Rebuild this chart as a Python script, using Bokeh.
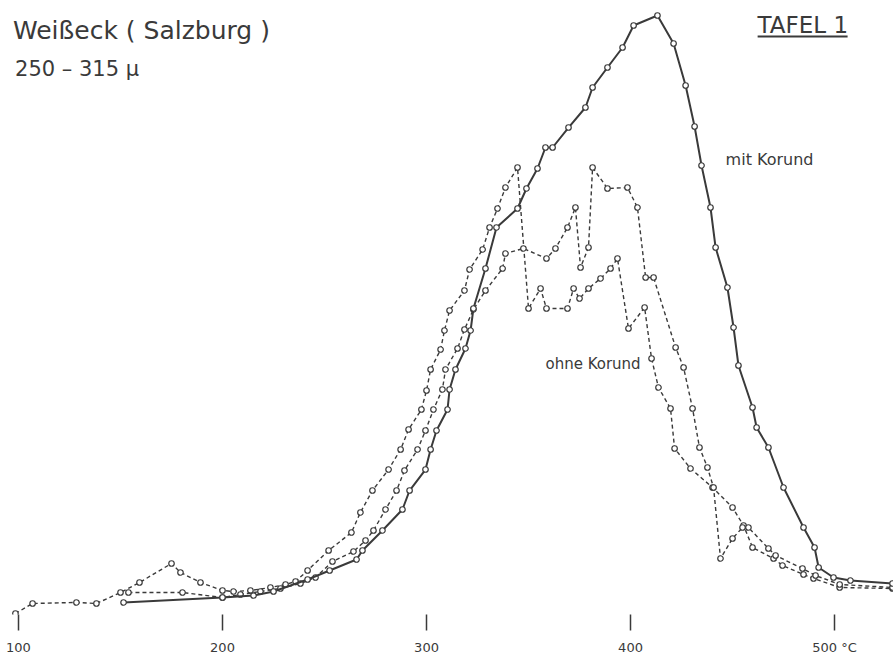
from bokeh.plotting import figure
from bokeh.models import Range1d, Label, FixedTicker
from bokeh.embed import file_html
from bokeh.resources import INLINE

# Temperature (°C) and relative intensity (arbitrary units, peak = 100)
mit_T = [151.5, 200.0, 215.2, 225.0, 241.7, 252.5, 265.7, 268.6, 278.4, 288.2, 291.7,
         299.5, 302.0, 304.9, 310.3, 311.3, 314.2, 319.1, 321.6, 323.0, 328.9, 334.3,
         344.6, 349.0, 354.4, 358.3, 361.8, 369.6, 377.9, 381.4, 388.7, 396.1, 401.5,
         413.2, 421.1, 427.0, 431.4, 434.8, 439.2, 441.7, 447.5, 450.5, 452.9, 459.8,
         461.8, 467.6, 475.0, 484.8, 490.2, 492.2, 499.5, 507.8, 528.4]
mit_v = [2.17, 3.0, 3.33, 4.0, 6.0, 7.5, 9.33, 10.83, 14.17, 17.67, 20.83,
         24.33, 27.67, 30.83, 34.33, 37.67, 41.0, 44.5, 47.5, 51.17, 57.83, 64.67,
         67.83, 71.17, 74.5, 78.0, 78.0, 81.33, 84.67, 88.0, 91.33, 94.67, 98.33,
         100.0, 95.33, 88.33, 81.5, 75.0, 68.0, 61.33, 54.67, 48.0, 41.67, 34.67,
         31.33, 28.0, 21.33, 14.67, 11.33, 8.0, 6.33, 5.83, 5.33]

ohne1_T = [98.5, 106.9, 128.4, 138.2, 150.0, 159.3, 175.0, 179.4, 189.2, 200.0, 205.4,
           213.7, 223.5, 230.9, 235.8, 241.7, 252.0, 263.2, 267.6, 273.5, 281.4, 287.3,
           291.2, 297.5, 300.0, 302.0, 306.9, 308.8, 311.3, 318.6, 321.1, 327.5, 330.9,
           334.8, 338.7, 344.6, 350.0, 355.9, 358.8, 369.1, 372.1, 375.0, 379.4, 385.3,
           390.2, 393.6, 399.0, 406.9, 410.3, 413.7, 419.6, 421.6, 429.4, 440.2, 450.0,
           455.4, 459.8, 470.1, 474.5, 484.8, 489.7, 502.5, 528.4]
ohne1_v = [0.33, 2.0, 2.17, 2.0, 3.83, 5.5, 8.67, 7.17, 5.5, 4.17, 4.0,
           4.17, 4.67, 5.17, 5.67, 7.5, 10.83, 13.83, 17.17, 20.83, 24.33, 27.67,
           31.0, 34.33, 37.5, 41.0, 44.33, 47.5, 50.83, 54.17, 57.67, 61.0, 64.67,
           67.83, 71.33, 74.67, 51.17, 54.5, 51.17, 51.17, 54.5, 52.83, 54.5, 56.17,
           57.83, 59.5, 47.83, 51.33, 42.83, 38.0, 34.5, 27.83, 24.5, 21.33, 18.0,
           15.0, 11.33, 9.5, 8.33, 6.83, 6.17, 4.67, 4.5]

ohne2_T = [153.9, 180.4, 200.0, 208.8, 218.6, 228.4, 238.2, 245.6, 253.9, 264.2, 270.1,
           274.0, 279.9, 285.3, 289.2, 295.6, 299.5, 303.4, 307.8, 309.3, 315.2, 318.6,
           323.0, 328.9, 337.3, 338.7, 347.5, 358.8, 363.2, 369.1, 373.0, 375.5, 379.4,
           381.4, 388.7, 398.5, 403.4, 407.4, 411.3, 422.1, 426.0, 430.4, 433.8, 437.7,
           440.7, 444.1, 450.0, 454.9, 457.8, 467.6, 471.1, 484.3, 490.7, 502.5, 528.4]
ohne2_v = [3.83, 3.83, 3.0, 3.5, 4.0, 4.5, 5.33, 6.33, 9.0, 10.67, 12.5,
           14.17, 17.67, 20.83, 24.17, 27.67, 30.83, 34.33, 37.67, 41.0, 44.5, 47.67,
           51.0, 54.17, 57.83, 60.33, 61.17, 59.5, 61.17, 64.67, 68.0, 58.0, 61.33,
           74.67, 71.17, 71.33, 68.0, 56.33, 56.33, 44.67, 41.33, 34.5, 28.0, 24.67,
           21.33, 9.5, 12.83, 14.67, 14.67, 11.17, 10.0, 7.83, 6.67, 5.17, 4.67]

tick_values = [100, 200, 300, 400, 500]
tick_labels = {500: "500 °C"}

INK = "#3a3a3a"
FONT = "DejaVu Sans"

p = figure(frame_width=893, frame_height=614,
           x_range=Range1d(91.18, 528.9), y_range=Range1d(0.167, 102.5),
           output_backend="svg", toolbar_location=None, min_border=0,
           y_axis_location=None)
p.background_fill_color = "white"
p.border_fill_color = "white"
p.outline_line_color = None
p.xgrid.visible = False
p.ygrid.visible = False

ax = p.xaxis[0]
ax.ticker = FixedTicker(ticks=tick_values)
ax.major_label_overrides = tick_labels
ax.axis_line_color = None
ax.minor_tick_line_color = None
ax.major_tick_in = 0
ax.major_tick_out = 16
ax.major_tick_line_width = 1.5
ax.major_tick_line_color = INK
ax.major_label_standoff = 9
ax.major_label_text_font = FONT
ax.major_label_text_font_size = "13px"
ax.major_label_text_color = INK

for T, v, dash, lw in [(ohne1_T, ohne1_v, "4 3", 1.4),
                       (ohne2_T, ohne2_v, "4 3", 1.4),
                       (mit_T, mit_v, "solid", 2.0)]:
    p.line(T, v, line_color=INK, line_width=lw, line_dash=dash)
    p.scatter(T, v, marker="circle", size=5.5, fill_color="white",
              line_color=INK, line_width=1.2)

def lab(x, y, text, size):
    p.add_layout(Label(x=x, y=y, text=text, text_font=FONT, text_font_size=size,
                       text_color=INK, text_baseline="middle", text_align="left"))

lab(97.3, 97.42, "Weißeck ( Salzburg )", "25px")
lab(98.3, 91.08, "250 – 315 μ", "21px")
lab(462.25, 98.5, "TAFEL 1", "23px")
lab(446.6, 76.0, "mit Korund", "16px")
lab(358.3, 41.92, "ohne Korund", "15px")
p.segment(x0=[462.3], y0=[96.5], x1=[506.4], y1=[96.5], line_color=INK, line_width=2)

open("out.html", "w").write(file_html(p, INLINE))
